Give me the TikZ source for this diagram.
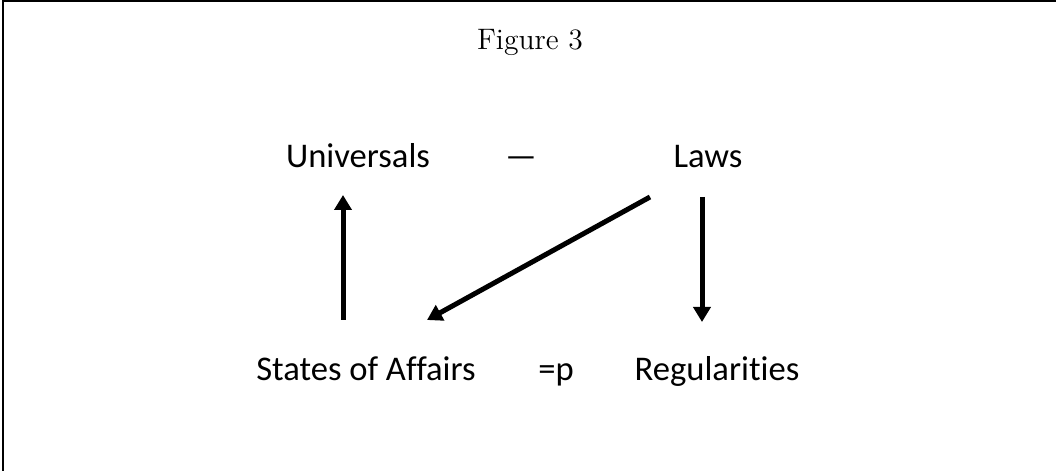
\documentclass[tikz,border=0pt]{standalone}
\usepackage{fontspec}
\setsansfont{Carlito}[Ligatures=NoCommon]
\usepackage{tikz}
\usetikzlibrary{arrows.meta,positioning,calc}

\begin{document}
\begin{tikzpicture}[x=0.5pt, y=0.5pt,
    lbl/.style={font=\sffamily\fontsize{17.3}{20}\selectfont, inner sep=0pt, anchor=base},
    arr/.style={-{Triangle[length=7.5pt, width=8.5pt]}, line width=2.5pt}]
  \useasboundingbox (0,0) rectangle (1056,471);
  % Frame (top and left edges only)
  \draw[line width=1pt] (3,0) -- (3,470) -- (1056,470);
  % Title
  \node[inner sep=0pt, anchor=base, font=\fontsize{14.8}{17}\selectfont] (fig) at (530,421) {Figure 3};
  % Top row
  \node[lbl] (univ) at (358,303) {Universals};
  \node[lbl] (dash) at (521,303) {—};
  \node[lbl] (laws) at (708,303) {Laws};
  % Bottom row
  \node[lbl] (soa) at (366,90) {States of Affairs};
  \node[lbl] (eqp) at (556,90) {=p};
  \node[lbl] (reg) at (717,90) {Regularities};
  % Arrows
  \draw[arr] ($(soa.base)+(-23,61)$) -- ($(univ.base)+(-15,-27)$);
  \draw[arr] ($(laws.base)+(-58,-29)$) -- ($(soa.base)+(61,61)$);
  \draw[arr] ($(laws.base)+(-6,-29)$) -- ($(reg.base)+(-15,59)$);
\end{tikzpicture}
\end{document}
